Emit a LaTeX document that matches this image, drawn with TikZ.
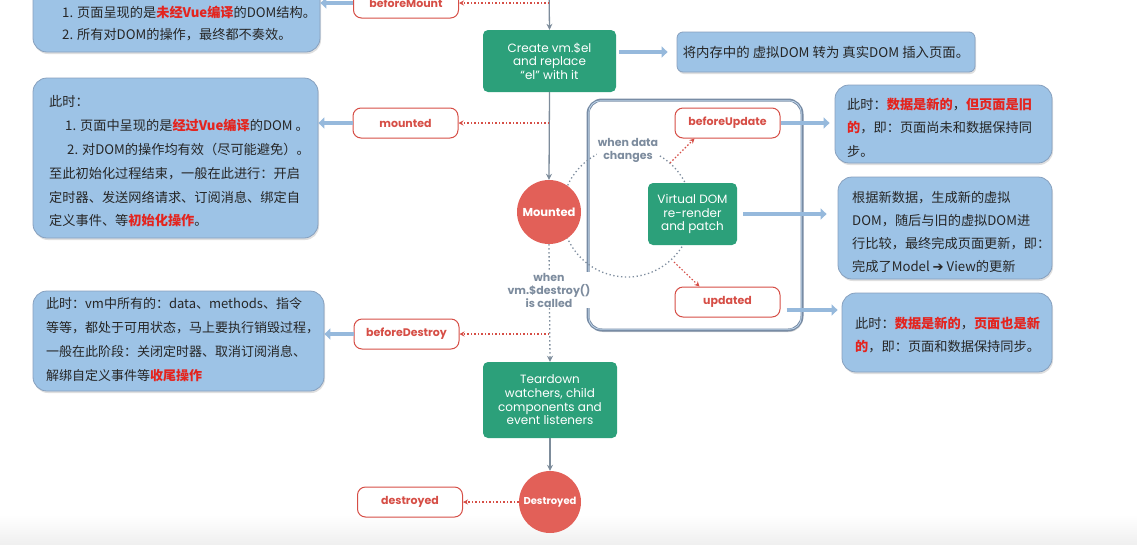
\documentclass[tikz,border=0pt]{standalone}
\usepackage{fontspec}
\setmainfont{Poppins}
\newfontfamily\cjk{Noto Sans CJK SC}
\newfontfamily\dv{DejaVu Sans}
\usetikzlibrary{arrows.meta,shadows}
\definecolor{vgreen}{RGB}{44,160,122}
\definecolor{vred}{RGB}{226,96,88}
\definecolor{hred}{RGB}{214,78,70}
\definecolor{tred}{RGB}{228,36,30}
\definecolor{bfill}{RGB}{157,195,230}
\definecolor{bedge}{RGB}{135,160,190}
\definecolor{garr}{RGB}{125,140,155}
\definecolor{glab}{RGB}{125,140,158}
\definecolor{barr}{RGB}{150,185,220}
\definecolor{frame}{RGB}{120,140,165}
\newcommand\hlt[1]{{\color{tred}\bfseries #1}}
\tikzset{
 bluebox/.style={draw=bedge, line width=0.8pt, fill=bfill, rounded corners=14pt,
   drop shadow={opacity=0.25,shadow xshift=1pt,shadow yshift=-2pt}},
 cjktext/.style={font=\cjk\fontsize{13.2}{23.5}\selectfont, align=left, anchor=west, inner sep=0pt, text=black!85},
 hook/.style={draw=hred, line width=1pt, fill=white, rounded corners=8pt, minimum width=105pt,
   minimum height=30pt, text=hred, font=\bfseries\fontsize{11}{13}\selectfont},
 stage/.style={fill=vgreen, rounded corners=5pt, text=white, align=center, font=\fontsize{12}{13.6}\selectfont},
 state/.style={circle, fill=vred, minimum size=64pt, inner sep=0pt, text=white, font=\bfseries\fontsize{11.5}{13}\selectfont},
 flow/.style={draw=garr, line width=1.3pt, -{Stealth[length=6pt,width=6pt]}},
 dflow/.style={flow, dash pattern=on 1.5pt off 2.5pt},
 hookarrow/.style={draw=hred, line width=1.1pt, dash pattern=on 1.5pt off 2pt, -{Stealth[length=5pt,width=5pt]}},
 note/.style={draw=barr, line width=4pt, -{Triangle[length=6pt,width=11pt]}},
 lab/.style={fill=white, text=glab, align=center, font=\bfseries\fontsize{11}{13}\selectfont, inner sep=1pt},
}
\begin{document}
\begin{tikzpicture}[x=1pt,y=-1pt]
\useasboundingbox (0,0) rectangle (1137,544);
\shade[top color=white,bottom color=black!6] (0,515) rectangle (1137,544);

% update frame
\node[draw=frame, line width=3pt, fill=white, rounded corners=14pt, minimum width=214pt, minimum height=230pt,
  drop shadow={opacity=0.3,shadow xshift=1pt,shadow yshift=-2pt}] (upd) at (695,215) {};
\draw[draw=barr!60, line width=0.8pt, rounded corners=12pt] ([xshift=2.2pt,yshift=-2.2pt]upd.north west) rectangle ([xshift=-2.2pt,yshift=2.2pt]upd.south east);
\draw[draw=glab, line width=1.3pt, dash pattern=on 1.3pt off 2.6pt] (627,212) circle[radius=65pt];

% lifecycle stages
\node[state] (mnt) at (549,212) {Mounted};
\node[stage, minimum width=133pt, minimum height=62pt] (cre) at (549.5,61) {Create vm.\$el\\and replace\\“el” with it};
\node[stage, minimum width=89pt, minimum height=62pt] (vd) at (692.5,214) {Virtual DOM\\re-render\\and patch};
\node[stage, minimum width=134pt, minimum height=76pt] (td) at (550,400) {Teardown\\watchers, child\\components and\\event listeners};
\node[state, font=\bfseries\fontsize{10}{12}\selectfont, minimum size=62pt] (des) at (550,502) {Destroyed};

% hooks
\node[hook] (hbm) at (406,3) {beforeMount};
\node[hook] (hm) at (405.5,123) {mounted};
\node[hook] (hbu) at (727.5,123) {beforeUpdate};
\node[hook] (hu) at (727.5,302) {updated};
\node[hook] (hbd) at (406.5,334) {beforeDestroy};
\node[hook] (hd) at (410,502) {destroyed};

% notes
\node[bluebox, minimum width=287pt, minimum height=80pt] (b1) at (176.5,12) {};
\node[cjktext, font=\cjk\fontsize{13.2}{22}\selectfont] (b1t) at (62,24) {1. 页面呈现的是\hlt{未经Vue编译}的DOM结构。\\2. 所有对DOM的操作，最终都不奏效。};

\node[bluebox, minimum width=285pt, minimum height=160pt] (b2) at (175.5,158) {};
\node[cjktext, font=\cjk\fontsize{13.2}{23.8}\selectfont] (b2t) at (49,161.5) {此时：\\
\hspace*{16pt}1. 页面中呈现的是\hlt{经过Vue编译}的DOM 。\\
\hspace*{18pt}2. 对DOM的操作均有效（尽可能避免）。\\
至此初始化过程结束，一般在此进行：开启\\
定时器、发送网络请求、订阅消息、绑定自\\
定义事件、等\hlt{初始化操作}。};

\node[bluebox, minimum width=291pt, minimum height=100pt] (b3) at (178.5,341) {};
\node[cjktext, font=\cjk\fontsize{13}{24}\selectfont] (b3t) at (46,340) {此时：vm中所有的：data、methods、指令\\
等等，都处于可用状态，马上要执行销毁过程，\\
一般在此阶段：关闭定时器、取消订阅消息、\\
解绑自定义事件等\hlt{收尾操作}};

\node[bluebox, rounded corners=6pt, minimum width=298pt, minimum height=40pt,
  font=\cjk\fontsize{13.4}{16}\selectfont, text=black!85] (bc) at (826,52) {将内存中的 虚拟DOM 转为 真实DOM 插入页面。};

\node[bluebox, minimum width=217pt, minimum height=78pt] (r1) at (943.5,124) {};
\node[cjktext] (r1t) at (847,127.5) {此时：\hlt{数据是新的}，\hlt{但页面是旧}\\\hlt{的}，即：页面尚未和数据保持同\\步。};

\node[bluebox, minimum width=214pt, minimum height=102pt] (r2) at (945,228) {};
\node[cjktext, font=\cjk\fontsize{13.2}{23}\selectfont] (r2t) at (852,231.5) {根据新数据，生成新的虚拟\\DOM，随后与旧的虚拟DOM进\\行比较，最终完成页面更新，即：\\完成了Model {\dv ➔} View的更新};

\node[bluebox, minimum width=210pt, minimum height=79pt] (r3) at (947,332.5) {};
\node[cjktext] (r3t) at (855,335) {此时：\hlt{数据是新的}，\hlt{页面也是新}\\\hlt{的}，即：页面和数据保持同步。};

% main flow
\coordinate (top) at (549,-12);
\coordinate (j0) at (549,3);
\coordinate (j1) at (549,123);
\coordinate (j2) at (549,334);
\coordinate (a1) at (670,163);
\coordinate (a2) at (674,262);
\draw[flow] (top) -- (cre.north);
\draw[flow] (cre.south) -- (mnt.north);
\draw[dflow] (mnt.south) -- (td.north);
\draw[flow] (td.south) -- (des.north);

% hook calls
\draw[hookarrow] (j0) -- (hbm.east);
\draw[hookarrow] (j1) -- (hm.east);
\draw[hookarrow] (j2) -- (hbd.east);
\draw[hookarrow] (des.west) -- (hd.east);
\draw[hookarrow] (a1) -- ([xshift=20pt]hbu.south west);
\draw[hookarrow] (a2) -- ([xshift=25pt]hu.north west);

% note arrows
\draw[note] (hbm.west) -- (hbm.west -| b1.east);
\draw[note] (hm.west) -- (hm.west -| b2.east);
\draw[note] (hbd.west) -- (hbd.west -| b3.east);
\draw[note, shorten <=3pt, shorten >=9pt] (cre.east |- bc.west) -- (bc.west);
\draw[note, shorten >=5pt] (hbu.east) -- (hbu.east -| r1.west);
\draw[note, shorten <=6pt, shorten >=11pt] (vd.east) -- (vd.east -| r2.west);
\draw[note, shorten <=6pt, shorten >=4pt] ([yshift=-8pt]hu.east) -- ([yshift=-8pt]hu.east -| r3.west);

% labels
\node[lab] (wdc) at (628,150) {when data\\changes};
\node[lab] (wvd) at (549,290) {when\\vm.\$destroy()\\is called};
\end{tikzpicture}
\end{document}
